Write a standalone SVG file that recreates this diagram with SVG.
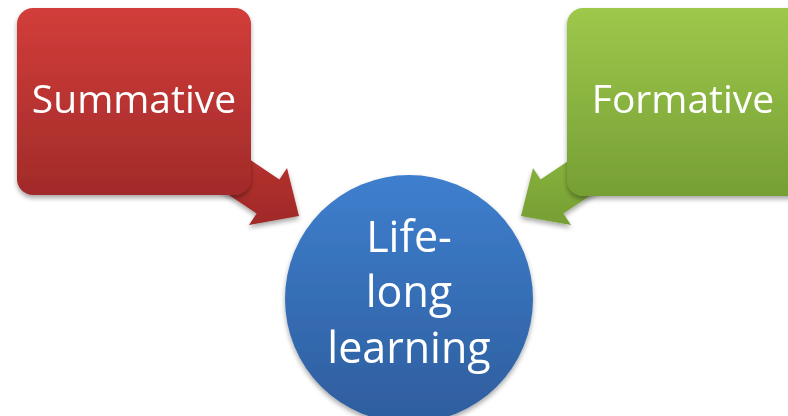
<svg xmlns="http://www.w3.org/2000/svg" width="788" height="416" viewBox="0 0 788 416">
  <defs>
    <linearGradient id="gRed" x1="0" y1="0" x2="0" y2="1">
      <stop offset="0" stop-color="#d23d3a"/>
      <stop offset="1" stop-color="#a12b29"/>
    </linearGradient>
    <linearGradient id="gRedArrow" x1="0" y1="0" x2="0" y2="1">
      <stop offset="0" stop-color="#b9322f"/>
      <stop offset="1" stop-color="#a02a28"/>
    </linearGradient>
    <linearGradient id="gGreen" x1="0" y1="0" x2="0" y2="1">
      <stop offset="0" stop-color="#9dc84b"/>
      <stop offset="1" stop-color="#769f35"/>
    </linearGradient>
    <linearGradient id="gGreenArrow" x1="0" y1="0" x2="0" y2="1">
      <stop offset="0" stop-color="#8ab63f"/>
      <stop offset="1" stop-color="#769e33"/>
    </linearGradient>
    <linearGradient id="gBlue" x1="0" y1="0" x2="0" y2="1">
      <stop offset="0" stop-color="#3e7fce"/>
      <stop offset="1" stop-color="#2e5d9d"/>
    </linearGradient>
    <filter id="shadow" x="-20%" y="-20%" width="140%" height="150%">
      <feGaussianBlur in="SourceAlpha" stdDeviation="2.5"/>
      <feOffset dx="0" dy="3" result="b"/>
      <feComponentTransfer><feFuncA type="linear" slope="0.35"/></feComponentTransfer>
      <feMerge><feMergeNode/><feMergeNode in="SourceGraphic"/></feMerge>
    </filter>
  </defs>
  <style>
    .lbl { font-family: "Open Sans", "Liberation Sans", sans-serif; fill: #ffffff; text-anchor: middle; }
    .box { font-size: 39px; }
    .circ { font-size: 43px; }
  </style>
  <rect width="788" height="416" fill="#ffffff"/>
  <g id="connectors" filter="url(#shadow)">
    <polygon points="229.5,146 279.4,179.4 287,168 299,216 249,225 256.6,213.6 206.7,180.3" fill="url(#gRedArrow)"/>
    <polygon points="590.5,146 540.6,179.4 533,168 521,216 571,225 563.4,213.6 613.3,180.3" fill="url(#gGreenArrow)"/>
  </g>
  <g id="summative" filter="url(#shadow)">
    <rect x="17" y="8" width="234" height="187" rx="16" fill="url(#gRed)"/>
    <text class="lbl box" x="134" y="113">Summative</text>
  </g>
  <g id="formative" filter="url(#shadow)">
    <rect x="567" y="8" width="240" height="188" rx="16" fill="url(#gGreen)"/>
    <text class="lbl box" x="683" y="113">Formative</text>
  </g>
  <g id="lifelong" filter="url(#shadow)">
    <circle cx="409" cy="299" r="124" fill="url(#gBlue)"/>
    <text class="lbl circ" x="409" y="252">Life-</text>
    <text class="lbl circ" x="409" y="307">long</text>
    <text class="lbl circ" x="409" y="363">learning</text>
  </g>
</svg>
